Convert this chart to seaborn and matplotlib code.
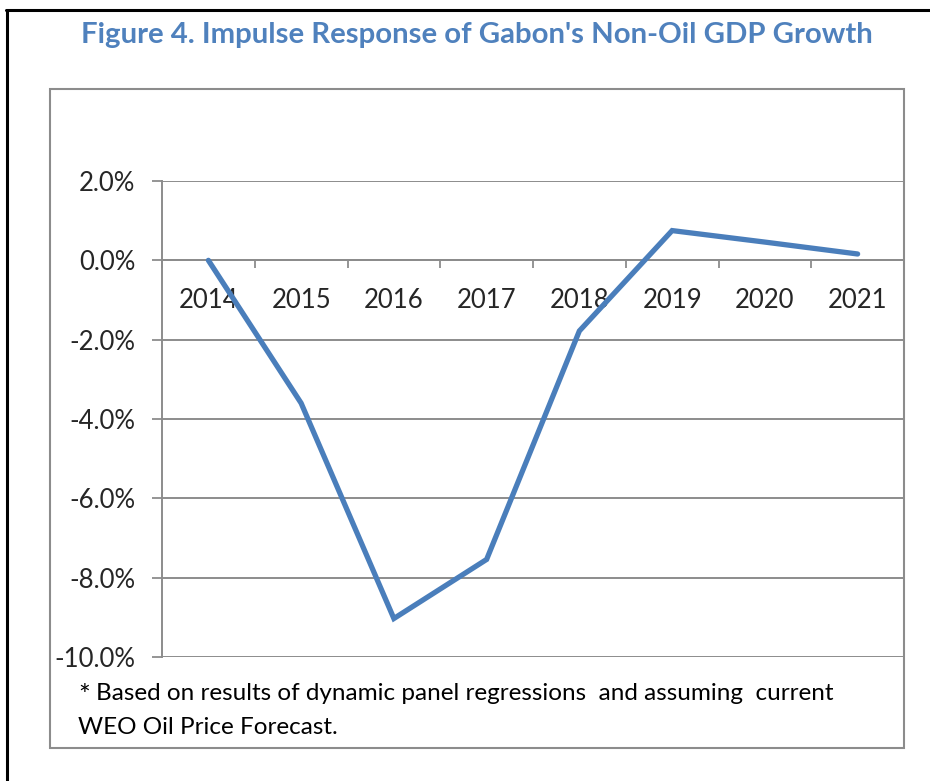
import matplotlib
matplotlib.use("Agg")
import matplotlib.pyplot as plt
import seaborn as sns
import pandas as pd
from matplotlib.lines import Line2D
from matplotlib.patches import Rectangle
from matplotlib.ticker import FixedLocator, FuncFormatter

years = ["2014", "2015", "2016", "2017", "2018", "2019", "2020", "2021"]
response = [0.0, -3.6, -9.03, -7.54, -1.78, 0.75, 0.46, 0.16]
ytick_values = [2, 0, -2, -4, -6, -8, -10]
title_text = "Figure 4. Impulse Response of Gabon's Non-Oil GDP Growth"
note_line1 = "Based on results of dynamic panel regressions  and assuming  current"
note_line2 = "WEO Oil Price Forecast."

sns.set_theme(style="white")
plt.rcParams["font.family"] = ["Lato", "DejaVu Sans"]

W, H = 930, 781
fig = plt.figure(figsize=(W / 100, H / 100), dpi=100)

def fx(px):
    return px / W

def fy(py):
    return 1 - py / H

left, right, top, bottom = 162, 904, 181, 657
ax = fig.add_axes([fx(left), fy(bottom), fx(right - left), (bottom - top) / H])

df = pd.DataFrame({"year": years, "value": response})
line_color = "#4A7EBB"
grey = "#8C8C8C"
sns.lineplot(data=df, x="year", y="value", ax=ax, color=line_color,
             linewidth=3.8, sort=False, solid_joinstyle="miter", zorder=3)

ax.set_xlim(-0.5, len(years) - 0.5)
ax.set_ylim(-10, 2)
ax.set_xlabel("")
ax.set_ylabel("")

# y axis
ax.yaxis.set_major_locator(FixedLocator(ytick_values))
ax.yaxis.set_major_formatter(FuncFormatter(lambda v, p: f"{v:.1f}%"))
ax.tick_params(axis="y", which="major", direction="out", length=7, width=1.3,
               color=grey, labelsize=18.5, pad=12, left=True)
ax.yaxis.grid(True, color=grey, linewidth=1.4)
ax.xaxis.grid(False)

# x axis at zero
ax.spines["bottom"].set_position(("data", 0))
ax.spines["bottom"].set_color(grey)
ax.spines["bottom"].set_linewidth(1.4)
ax.spines["left"].set_color(grey)
ax.spines["left"].set_linewidth(1.4)
ax.spines["right"].set_color(grey)
ax.spines["right"].set_linewidth(1.4)
ax.spines["top"].set_visible(False)
ax.xaxis.set_major_locator(FixedLocator([i - 0.5 for i in range(len(years) + 1)]))
ax.xaxis.set_major_formatter(FuncFormatter(lambda v, p: ""))
ax.xaxis.set_minor_locator(FixedLocator(list(range(len(years)))))
ax.xaxis.set_minor_formatter(FuncFormatter(lambda v, p: years[int(round(v))]))
ax.tick_params(axis="x", which="major", direction="out", length=6, width=1.3,
               color=grey, bottom=True)
ax.tick_params(axis="x", which="minor", length=0, labelsize=18.5, pad=20, bottom=True)
ax.set_facecolor("white")

# chart area border
fig.patches.append(Rectangle((fx(50), fy(748)), fx(904 - 50), (748 - 89) / H,
                             transform=fig.transFigure, fill=False,
                             edgecolor=grey, linewidth=1.5, zorder=0))
# outer black frame
fig.lines.append(Line2D([fx(6), 1.0], [fy(10), fy(10)], transform=fig.transFigure,
                        color="black", linewidth=2.2))
fig.lines.append(Line2D([fx(7), fx(7)], [fy(10), 0.0], transform=fig.transFigure,
                        color="black", linewidth=2.2))

fig.text(fx(477), fy(35), title_text, ha="center", va="center",
         fontsize=21.2, fontweight="bold", color="#4F81BD")

fig.text(fx(78), fy(697), "*", ha="left", va="center", fontsize=20, color="black")
fig.text(fx(96), fy(694), note_line1, ha="left", va="center", fontsize=17.5, color="black")
fig.text(fx(78), fy(727), note_line2, ha="left", va="center", fontsize=17.5, color="black")

fig.savefig("out.png", dpi=100, facecolor="white")
